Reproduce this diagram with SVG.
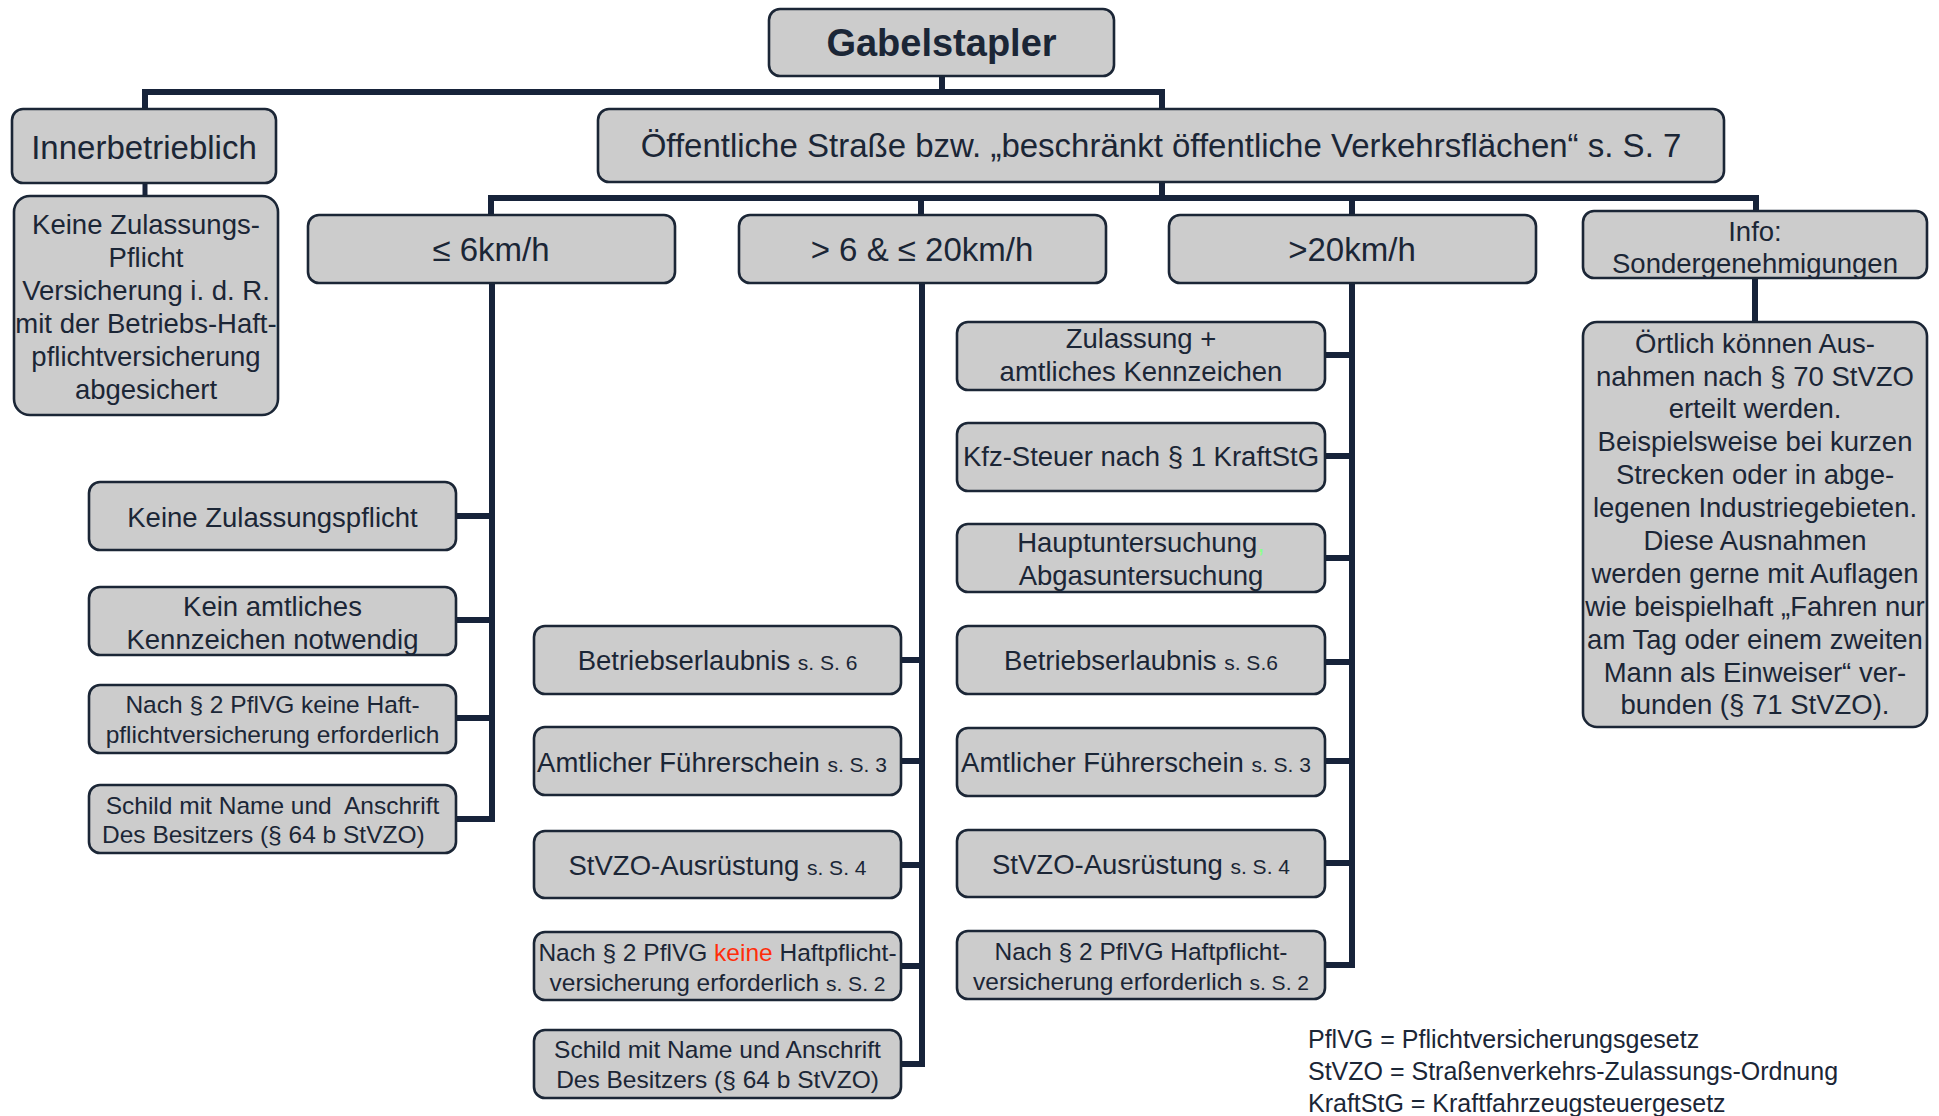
<svg xmlns="http://www.w3.org/2000/svg" width="1939" height="1116" viewBox="0 0 1939 1116">
<style>
.box{fill:#cccccc;stroke:#1b2636;stroke-width:2.6}
.t{font-family:"Liberation Sans",Arial,sans-serif;fill:#1b2636;text-anchor:middle}
.h{font-size:33px}
.m{font-size:27.5px}
.s{font-size:24.5px}
.sm{font-size:21px}
.b{font-size:38px;font-weight:bold}
.red{fill:#ff2d0a}
.grn{fill:#8cff8c}
.con{fill:none;stroke:#17233a;stroke-width:6;stroke-linejoin:miter;stroke-linecap:butt}
.leg{font-family:"Liberation Sans",Arial,sans-serif;fill:#1b2636;font-size:25px}
</style>
<rect width="1939" height="1116" fill="#ffffff"/>
<g id="connectors">
<path class="con" d="M145,109 V92 H1162 V109"/>
<path class="con" d="M942,76 V92"/>
<path class="con" d="M145,183 V196" style="stroke-width:5"/>
<path class="con" d="M491,215 V198 H1756 V211"/>
<path class="con" d="M1162,182 V198"/>
<path class="con" d="M921,198 V215"/>
<path class="con" d="M1352,198 V215"/>
<path class="con" d="M492,283 V819 H457"/>
<path class="con" d="M457,516 H492 M457,620 H492 M457,718 H492"/>
<path class="con" d="M922,283 V1064 H902"/>
<path class="con" d="M902,660 H922 M902,761 H922 M902,865 H922 M902,966 H922"/>
<path class="con" d="M1352,283 V965 H1326"/>
<path class="con" d="M1326,355 H1352 M1326,456 H1352 M1326,558 H1352 M1326,662 H1352 M1326,761 H1352 M1326,863 H1352"/>
<path class="con" d="M1755,278 V322"/>
</g>
<g id="gabelstapler"><rect class="box" x="769" y="9" width="345" height="67" rx="11"/><text class="t b" x="941.5" y="56">Gabelstapler</text></g>
<g id="innerbetrieblich"><rect class="box" x="12" y="109" width="264" height="74" rx="11"/><text class="t h" x="144" y="159">Innerbetrieblich</text></g>
<g id="oeffentlich"><rect class="box" x="598" y="109" width="1126" height="73" rx="11"/><text class="t h" x="1161" y="157">Öffentliche Straße bzw. „beschränkt öffentliche Verkehrsflächen“ s. S. 7</text></g>
<g id="inner-detail"><rect class="box" x="14" y="196" width="264" height="219" rx="16"/>
<text class="t m" x="146" y="234">Keine Zulassungs-</text>
<text class="t m" x="146" y="267">Pflicht</text>
<text class="t m" x="146" y="300">Versicherung i. d. R.</text>
<text class="t m" x="146" y="333">mit der Betriebs-Haft-</text>
<text class="t m" x="146" y="366">pflichtversicherung</text>
<text class="t m" x="146" y="399">abgesichert</text></g>
<g id="speed-6"><rect class="box" x="308" y="215" width="367" height="68" rx="11"/><text class="t h" x="491" y="261">≤ 6km/h</text></g>
<g id="speed-6-20"><rect class="box" x="739" y="215" width="367" height="68" rx="11"/><text class="t h" x="922" y="261">&gt; 6 &amp; ≤ 20km/h</text></g>
<g id="speed-20"><rect class="box" x="1169" y="215" width="367" height="68" rx="11"/><text class="t h" x="1352" y="261">&gt;20km/h</text></g>
<g id="info"><rect class="box" x="1583" y="211" width="344" height="67" rx="11"/><text class="t m" x="1755" y="241">Info:</text><text class="t m" x="1755" y="273">Sondergenehmigungen</text></g>
<g id="info-detail"><rect class="box" x="1583" y="322" width="344" height="405" rx="14"/>
<text class="t m" x="1755" y="353">Örtlich können Aus-</text>
<text class="t m" x="1755" y="386">nahmen nach § 70 StVZO</text>
<text class="t m" x="1755" y="418">erteilt werden.</text>
<text class="t m" x="1755" y="451">Beispielsweise bei kurzen</text>
<text class="t m" x="1755" y="484">Strecken oder in abge-</text>
<text class="t m" x="1755" y="517">legenen Industriegebieten.</text>
<text class="t m" x="1755" y="550">Diese Ausnahmen</text>
<text class="t m" x="1755" y="583">werden gerne mit Auflagen</text>
<text class="t m" x="1755" y="616">wie beispielhaft „Fahren nur</text>
<text class="t m" x="1755" y="649">am Tag oder einem zweiten</text>
<text class="t m" x="1755" y="682">Mann als Einweiser“ ver-</text>
<text class="t m" x="1755" y="714">bunden (§ 71 StVZO).</text></g>
<g id="a1"><rect class="box" x="89" y="482" width="367" height="68" rx="11"/><text class="t m" x="272.5" y="527">Keine Zulassungspflicht</text></g>
<g id="a2"><rect class="box" x="89" y="587" width="367" height="68" rx="11"/><text class="t m" x="272.5" y="616">Kein amtliches</text><text class="t m" x="272.5" y="649">Kennzeichen notwendig</text></g>
<g id="a3"><rect class="box" x="89" y="685" width="367" height="68" rx="11"/><text class="t s" x="272.5" y="713">Nach § 2 PflVG keine Haft-</text><text class="t s" x="272.5" y="743">pflichtversicherung erforderlich</text></g>
<g id="a4"><rect class="box" x="89" y="785" width="367" height="68" rx="11"/><text class="t s" x="272.5" y="814" xml:space="preserve">Schild mit Name und  Anschrift</text><text class="t s" x="102" y="843" style="text-anchor:start">Des Besitzers (§ 64 b StVZO)</text></g>
<g id="b1"><rect class="box" x="534" y="626" width="367" height="68" rx="11"/><text class="t m" x="717.5" y="670">Betriebserlaubnis <tspan class="sm">s. S. 6</tspan></text></g>
<g id="b2"><rect class="box" x="534" y="727" width="367" height="68" rx="11"/><text class="t m" x="712" y="772">Amtlicher Führerschein <tspan class="sm">s. S. 3</tspan></text></g>
<g id="b3"><rect class="box" x="534" y="831" width="367" height="67" rx="11"/><text class="t m" x="717.5" y="875">StVZO-Ausrüstung <tspan class="sm">s. S. 4</tspan></text></g>
<g id="b4"><rect class="box" x="534" y="932" width="367" height="68" rx="11"/><text class="t s" x="717.5" y="961">Nach § 2 PflVG <tspan class="red">keine</tspan> Haftpflicht-</text><text class="t s" x="717.5" y="991">versicherung erforderlich <tspan class="sm">s. S. 2</tspan></text></g>
<g id="b5"><rect class="box" x="534" y="1030" width="367" height="68" rx="11"/><text class="t s" x="717.5" y="1058">Schild mit Name und Anschrift</text><text class="t s" x="717.5" y="1088">Des Besitzers (§ 64 b StVZO)</text></g>
<g id="c1"><rect class="box" x="957" y="322" width="368" height="68" rx="11"/><text class="t m" x="1141" y="348">Zulassung +</text><text class="t m" x="1141" y="381">amtliches Kennzeichen</text></g>
<g id="c2"><rect class="box" x="957" y="423" width="368" height="68" rx="11"/><text class="t m" x="1141" y="466">Kfz-Steuer nach § 1 KraftStG</text></g>
<g id="c3"><rect class="box" x="957" y="524" width="368" height="68" rx="11"/><text class="t m" x="1141" y="552">Hauptuntersuchung<tspan class="grn">,</tspan></text><text class="t m" x="1141" y="585">Abgasuntersuchung</text></g>
<g id="c4"><rect class="box" x="957" y="626" width="368" height="68" rx="11"/><text class="t m" x="1141" y="670">Betriebserlaubnis <tspan class="sm">s. S.6</tspan></text></g>
<g id="c5"><rect class="box" x="957" y="728" width="368" height="68" rx="11"/><text class="t m" x="1136" y="772">Amtlicher Führerschein <tspan class="sm">s. S. 3</tspan></text></g>
<g id="c6"><rect class="box" x="957" y="830" width="368" height="67" rx="11"/><text class="t m" x="1141" y="874">StVZO-Ausrüstung <tspan class="sm">s. S. 4</tspan></text></g>
<g id="c7"><rect class="box" x="957" y="931" width="368" height="68" rx="11"/><text class="t s" x="1141" y="960">Nach § 2 PflVG Haftpflicht-</text><text class="t s" x="1141" y="990">versicherung erforderlich <tspan class="sm">s. S. 2</tspan></text></g>
<g id="legend">
<text class="leg" x="1308" y="1048">PflVG = Pflichtversicherungsgesetz</text>
<text class="leg" x="1308" y="1080">StVZO = Straßenverkehrs-Zulassungs-Ordnung</text>
<text class="leg" x="1308" y="1112">KraftStG = Kraftfahrzeugsteuergesetz</text>
</g>
</svg>
